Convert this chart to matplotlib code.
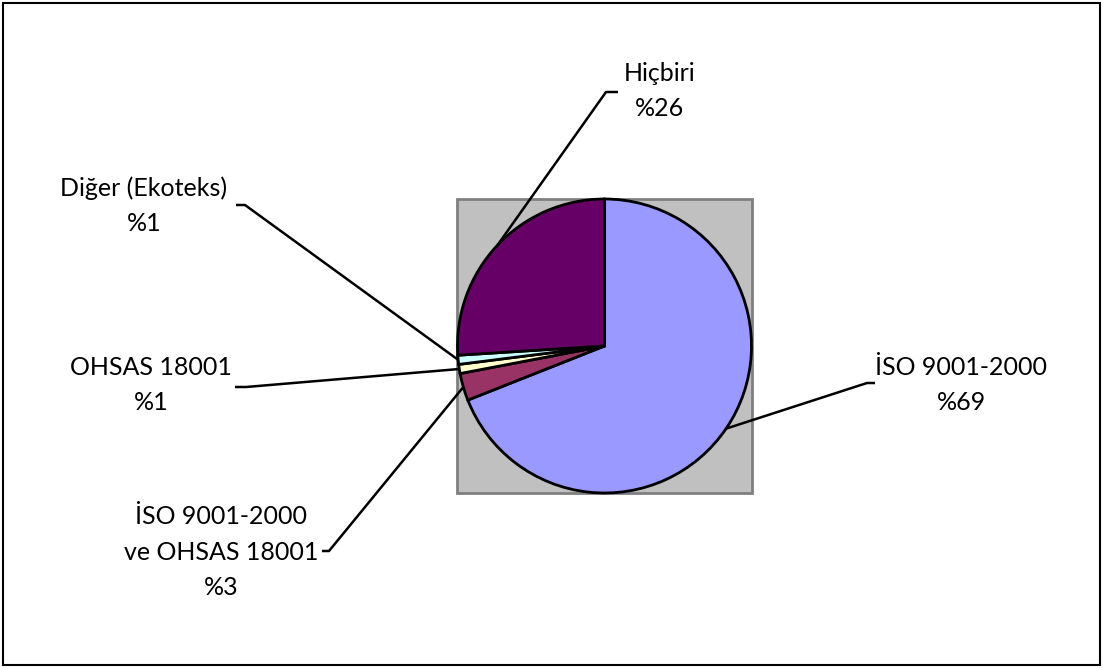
import numpy as np
import matplotlib.pyplot as plt
from matplotlib.patches import Rectangle

labels = ["İSO 9001-2000", "İSO 9001-2000\nve OHSAS 18001", "OHSAS 18001", "Diğer (Ekoteks)", "Hiçbiri"]
values = [69, 3, 1, 1, 26]
colors = ["#9999FF", "#993366", "#FFFFCC", "#CCFFFF", "#660066"]

W, H = 1103, 668
plt.rcParams['font.family'] = ['Lato', 'DejaVu Sans']
fontsize = 18

def Y(p):
    return H - p

fig = plt.figure(figsize=(W / 100, H / 100), dpi=100)
ax = fig.add_axes([0, 0, 1, 1])

# outer chart frame and gray plot area
ax.add_patch(Rectangle((3, Y(665)), 1097, 662, fill=False, edgecolor='black', lw=1.5))
ax.add_patch(Rectangle((457, Y(493)), 295, 294, facecolor='#C0C0C0', edgecolor='#808080', lw=2))

cx, cy, r = 604.5, Y(346), 147
wedges, _ = ax.pie(values, colors=colors, startangle=90, counterclock=False,
                   center=(cx, cy), radius=r, frame=True,
                   wedgeprops=dict(edgecolor='black', linewidth=2))
ax.set_xlim(0, W)
ax.set_ylim(0, H)
ax.set_aspect('equal')
ax.axis('off')

# leader elbow, leader end, label center (pixel coords, y down)
layout = [
    ((867, 383), (875, 383), (961, 385)),
    ((329, 551), (322, 551), (221, 552)),
    ((246, 387), (235, 387), (151, 385)),
    ((245, 205), (236, 205), (144, 206)),
    ((606, 92), (618, 92), (660, 91)),
]

for w, lab, v, (elb, end, pos) in zip(wedges, labels, values, layout):
    ang = np.deg2rad((w.theta1 + w.theta2) / 2)
    tip = (cx + r * np.cos(ang), cy + r * np.sin(ang))
    ax.plot([tip[0], elb[0], end[0]], [tip[1], Y(elb[1]), Y(end[1])], color='black', lw=1.8,
            solid_capstyle='butt')
    ax.text(pos[0], Y(pos[1]), f"{lab}\n%{v}", ha='center', va='center', multialignment='center',
            fontsize=fontsize, linespacing=1.65)

fig.savefig("out.png", dpi=100)
